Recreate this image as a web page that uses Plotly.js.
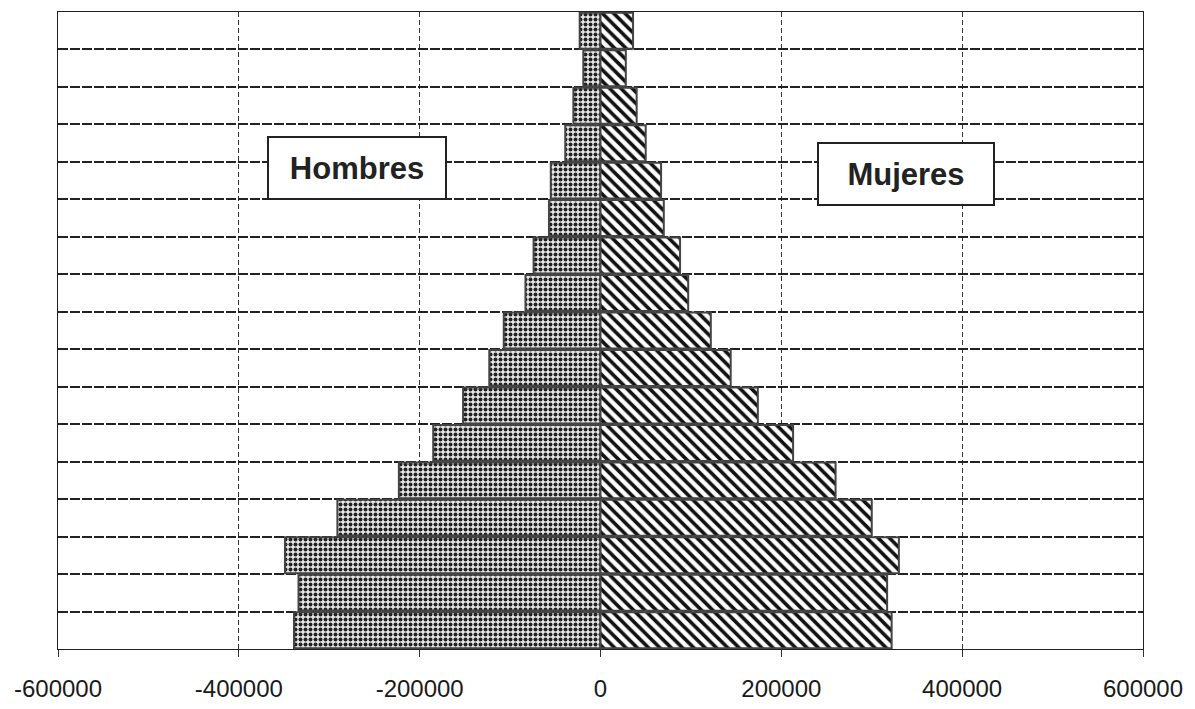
<!DOCTYPE html>
<html>
<head>
<meta charset="utf-8">
<script src="https://cdn.plot.ly/plotly-3.0.1.min.js"></script>
<style>
html,body{margin:0;padding:0;background:#fff;}
#chart{width:1195px;height:709px;}
</style>
</head>
<body>
<div id="chart"></div>
<script>
// Age groups from youngest (bottom) to oldest (top)
var grupos = ["0-4","5-9","10-14","15-19","20-24","25-29","30-34","35-39","40-44","45-49","50-54","55-59","60-64","65-69","70-74","75-79","80+"];
var hombres = [-339000,-334000,-349000,-291000,-223000,-185000,-152000,-123000,-107000,-83000,-74000,-57000,-55000,-39000,-30000,-19000,-23000];
var mujeres = [322000,317000,330000,300000,260000,213000,174000,144000,122000,97000,88000,70000,67000,50000,40000,28000,36000];
var xTicks = [-600000,-400000,-200000,0,200000,400000,600000];
var xTickText = ["-600000","-400000","-200000","0","200000","400000","600000"];

var yIdx = grupos.map(function(_, i){ return i; });

var traceH = {
  type: 'bar', orientation: 'h', name: 'Hombres',
  y: yIdx, x: hombres, hovertext: grupos, hoverinfo: 'x+text', textposition: 'none',
  marker: {
    color: '#d8d8d8',
    line: {color: '#444', width: 2},
    pattern: {shape: '.', fgcolor: '#222', bgcolor: '#e6e6e6', size: 5, solidity: 0.5}
  }
};
var traceM = {
  type: 'bar', orientation: 'h', name: 'Mujeres',
  y: yIdx, x: mujeres, hovertext: grupos, hoverinfo: 'x+text', textposition: 'none',
  marker: {
    color: '#ffffff',
    line: {color: '#444', width: 2},
    pattern: {shape: '\\', fgcolor: '#111', bgcolor: '#ffffff', size: 8, solidity: 0.45}
  }
};

var layout = {
  width: 1195, height: 709,
  margin: {l: 58, r: 52, t: 12, b: 60},
  paper_bgcolor: '#fff', plot_bgcolor: '#fff',
  showlegend: false,
  barmode: 'overlay',
  bargap: 0.04,
  font: {family: 'Liberation Sans, Arial, sans-serif', color: '#111'},
  xaxis: {
    range: [-600000, 600000],
    tickvals: xTicks, ticktext: xTickText,
    tickfont: {size: 24, family: 'Liberation Sans, Arial, sans-serif', color: '#1a1a1a'},
    ticklabelstandoff: 11,
    showgrid: true, gridcolor: '#333', gridwidth: 1, griddash: '5px,3px',
    zeroline: false,
    showline: true, linecolor: '#222', linewidth: 1, mirror: true,
    ticks: 'outside', ticklen: 7, tickcolor: '#333',
    fixedrange: true
  },
  yaxis: {
    range: [-0.5, 16.5],
    tick0: 0.5, dtick: 1, tickmode: 'linear',
    showticklabels: false,
    showgrid: true, gridcolor: '#222', gridwidth: 2, griddash: '10px,2px',
    zeroline: false,
    showline: true, linecolor: '#222', linewidth: 1, mirror: true,
    ticks: '',
    fixedrange: true
  },
  annotations: [
    {text: '<b>Hombres</b>', xref: 'paper', yref: 'paper', x: (357 - 58) / 1085, y: 1 - (168 - 12) / 637,
     xanchor: 'center', yanchor: 'middle',
     showarrow: false, font: {size: 31, color: '#222', family: 'Liberation Sans, Arial, sans-serif'},
     bgcolor: '#fff', bordercolor: '#222', borderwidth: 2, borderpad: 0,
     width: 176, height: 60},
    {text: '<b>Mujeres</b>', xref: 'paper', yref: 'paper', x: (906 - 58) / 1085, y: 1 - (174 - 12) / 637,
     xanchor: 'center', yanchor: 'middle',
     showarrow: false, font: {size: 31, color: '#222', family: 'Liberation Sans, Arial, sans-serif'},
     bgcolor: '#fff', bordercolor: '#222', borderwidth: 2, borderpad: 0,
     width: 174, height: 60}
  ]
};

Plotly.newPlot('chart', [traceH, traceM], layout, {displayModeBar: false, staticPlot: true});
</script>
</body>
</html>
